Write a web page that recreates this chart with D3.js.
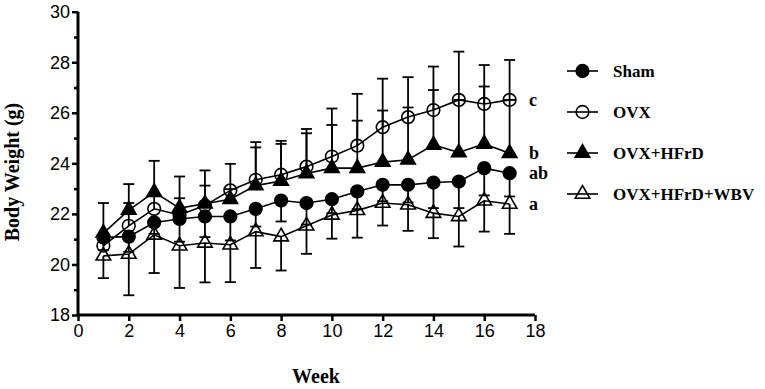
<!DOCTYPE html>
<html><head><meta charset="utf-8">
<script src="https://cdn.jsdelivr.net/npm/d3@7"></script>
<style>body{margin:0;background:#fff}svg{display:block}</style>
</head><body>
<script>
const weeks = [1,2,3,4,5,6,7,8,9,10,11,12,13,14,15,16,17];
const sham    = [21.07,21.10,21.66,21.80,21.90,21.90,22.20,22.53,22.43,22.58,22.89,23.15,23.15,23.24,23.28,23.81,23.61];
const shamErr = [0.50,0.60,0.45,0.90,0.82,0.95,0.70,0.83,0.85,0.55,0.70,0.65,0.70,1.01,1.05,1.08,0.92];
const ovx     = [20.74,21.53,22.20,21.96,22.33,22.93,23.35,23.55,23.87,24.27,24.70,25.43,25.83,26.11,26.51,26.35,26.51];
const ovxErr  = [0.40,0.90,0.60,0.66,0.79,1.05,1.49,1.34,1.49,1.90,2.05,1.92,1.58,1.72,1.91,1.54,1.58];
const hfrd    = [21.24,22.15,22.86,22.23,22.40,22.58,23.12,23.30,23.60,23.81,23.81,24.05,24.14,24.73,24.43,24.77,24.40];
const hfrdErr = [1.19,1.03,1.24,1.25,1.32,0.40,1.51,1.47,1.59,1.71,1.88,2.04,2.07,2.17,2.08,2.27,2.11];
const wbv     = [20.34,20.41,21.17,20.74,20.85,20.78,21.30,21.10,21.53,21.96,22.14,22.43,22.36,22.03,21.90,22.52,22.39];
const wbvErr  = [0.88,1.63,1.51,1.67,1.56,1.48,1.44,1.34,1.11,0.94,1.08,0.89,1.03,0.99,1.19,1.22,1.18];
const groupNames = ["Sham","OVX","OVX+HFrD","OVX+HFrD+WBV"];
const sigLetters = ["ab","c","b","a"];
const xTicks = [0,2,4,6,8,10,12,14,16,18];
const yTicks = [18,20,22,24,26,28,30];
const yMinor = [19,21,23,25,27,29];

const W = 765, H = 389;
const svg = d3.select("body").append("svg").attr("width", W).attr("height", H);
const x = d3.scaleLinear().domain([0,18]).range([78,535]);
const y = d3.scaleLinear().domain([18,30]).range([315,11.7]);

const series = [
  {name: groupNames[0], vals: sham, err: shamErr, dir: -1, shape: "circle", fill: "#000", sig: sigLetters[0]},
  {name: groupNames[1], vals: ovx,  err: ovxErr,  dir:  1, shape: "circle", fill: "none", sig: sigLetters[1]},
  {name: groupNames[2], vals: hfrd, err: hfrdErr, dir:  1, shape: "triangle", fill: "#000", sig: sigLetters[2]},
  {name: groupNames[3], vals: wbv,  err: wbvErr,  dir: -1, shape: "triangle", fill: "none", sig: sigLetters[3]}
];

const serif = "'Liberation Serif','Times New Roman',serif";
const narrow = "'Liberation Sans Narrow','Arial Narrow','Liberation Sans',sans-serif";

// axes
const xAxis = d3.axisBottom(x).tickValues(xTicks).tickSize(6).tickPadding(3).tickFormat(d3.format("d"));
const gx = svg.append("g").attr("transform", `translate(0,${y(18)})`).call(xAxis);
const yAxis = d3.axisLeft(y).tickValues(yTicks).tickSize(6).tickPadding(2).tickFormat(d3.format("d"));
const gy = svg.append("g").attr("transform", `translate(${x(0)},0)`).call(yAxis);
const yAxisMinor = d3.axisLeft(y).tickValues(yMinor).tickSize(4).tickFormat("");
const gym = svg.append("g").attr("transform", `translate(${x(0)},0)`).call(yAxisMinor);
[gx, gy, gym].forEach(g => {
  g.select(".domain").attr("stroke", "#000").attr("stroke-width", 3);
  g.selectAll(".tick line").attr("stroke", "#000").attr("stroke-width", 2.5);
  g.selectAll(".tick text").attr("font-family", narrow).attr("font-size", 18).attr("fill", "#000");
});
gx.select(".domain").attr("d", `M${x(0)},0H${x(18)}`);
gy.select(".domain").attr("d", `M0,${y(18)}V${y(30)}`);
gym.select(".domain").remove();

// lines
const line = d3.line().x((d,i) => x(weeks[i])).y(d => y(d));
series.forEach(s => {
  svg.append("path").attr("d", line(s.vals)).attr("fill", "none").attr("stroke", "#000").attr("stroke-width", 1.6);
});

// error bars
series.forEach(s => {
  const g = svg.append("g").attr("stroke", "#000").attr("stroke-width", 1.8);
  s.vals.forEach((v, i) => {
    const xe = x(weeks[i]);
    const end = y(v + s.dir * s.err[i]);
    g.append("line").attr("x1", xe).attr("x2", xe).attr("y1", y(v)).attr("y2", end);
    g.append("line").attr("x1", xe - 5.5).attr("x2", xe + 5.5).attr("y1", end).attr("y2", end);
  });
});

// markers
const symCircle = d3.symbol().type(d3.symbolCircle).size(Math.PI * 40);
const symTri = d3.symbol().type(d3.symbolTriangle).size(92);
function drawMarker(g, s, cx, cy) {
  g.append("path")
    .attr("d", s.shape === "circle" ? symCircle() : symTri())
    .attr("transform", `translate(${cx},${cy})`)
    .attr("fill", s.fill).attr("stroke", "#000").attr("stroke-width", 1.6);
}
series.forEach(s => {
  const g = svg.append("g");
  s.vals.forEach((v, i) => drawMarker(g, s, x(weeks[i]), y(v)));
});

// significance letters
series.forEach(s => {
  svg.append("text").attr("x", 529).attr("y", y(s.vals[16]) + 6)
    .attr("font-family", serif).attr("font-weight", "bold").attr("font-size", 18).text(s.sig);
});

// legend
const legY = [71, 112, 153, 194];
series.forEach((s, i) => {
  const g = svg.append("g");
  g.append("line").attr("x1", 567).attr("x2", 598).attr("y1", legY[i]).attr("y2", legY[i])
    .attr("stroke", "#000").attr("stroke-width", 1.6);
  drawMarker(g, s, 582.5, legY[i]);
  g.append("text").attr("x", 613).attr("y", legY[i] + 6)
    .attr("font-family", serif).attr("font-weight", "bold").attr("font-size", 17).text(s.name);
});

// axis titles
svg.append("text").attr("x", 316).attr("y", 383).attr("text-anchor", "middle")
  .attr("font-family", serif).attr("font-weight", "bold").attr("font-size", 20).text("Week");
svg.append("text").attr("transform", `translate(19,172) rotate(-90)`).attr("text-anchor", "middle")
  .attr("font-family", serif).attr("font-weight", "bold").attr("font-size", 20).text("Body Weight (g)");
</script>
</body></html>
